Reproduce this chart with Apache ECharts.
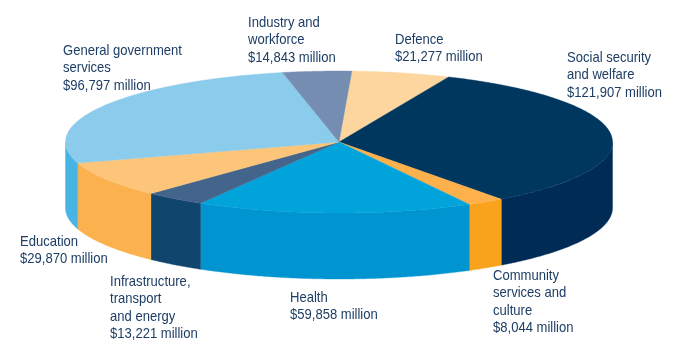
<!DOCTYPE html>
<html>
<head>
<meta charset="utf-8">
<style>html,body{margin:0;padding:0;background:#fff}#c{width:690px;height:356px}</style>
<script src="https://cdn.jsdelivr.net/npm/echarts@6/dist/echarts.min.js"></script>
</head>
<body>
<div id="c"></div>
<script>
// Data, clockwise from the top of the pie
var categories = ['Defence', 'Social security\nand welfare', 'Community\nservices and\nculture', 'Health',
  'Infrastructure,\ntransport\nand energy', 'Education', 'General government\nservices', 'Industry and\nworkforce'];
var spending = [21277, 121907, 8044, 59858, 13221, 29870, 96797, 14843];

// Styles and layout
var topColors = ['#fdd69f', '#00375f', '#fdb04c', '#00a4db', '#44658b', '#fcc579', '#8bcbec', '#748db0'];
var sideColors = ['#fdd69f', '#002b55', '#f9a31c', '#0094d0', '#10456d', '#fbb14d', '#47b4e4', '#748db0'];
var labelX = [395, 567, 493, 290, 110, 20, 63, 248];
var labelY = [31, 49, 267, 289, 273, 233, 42, 14];
var startAngle = 2.7, cx = 339, cy = 142, rx = 273.5, ry = 71, depth = 66;

var total = spending.reduce(function (a, b) { return a + b; }, 0);
function sliceStart(i) {
  var sum = 0;
  for (var k = 0; k < i; k++) sum += spending[k];
  return startAngle + sum / total * 360;
}
function rimPoint(deg, dy) {
  var r = deg * Math.PI / 180;
  return [cx + rx * Math.sin(r), cy - ry * Math.cos(r) + dy];
}
function renderTop(params, api) {
  var i = params.dataIndex, a0 = sliceStart(i), a1 = a0 + api.value(0) / total * 360;
  var pts = [[cx, cy]];
  for (var a = a0; a < a1; a += 0.5) pts.push(rimPoint(a, 0));
  pts.push(rimPoint(a1, 0));
  return { type: 'polygon', shape: { points: pts },
    style: { fill: topColors[i], stroke: topColors[i], lineWidth: 0.4 } };
}
function renderSide(params, api) {
  var i = params.dataIndex, a0 = sliceStart(i), a1 = a0 + api.value(0) / total * 360;
  var s = Math.max(a0, 90), e = Math.min(a1, 270);
  if (e <= s) return { type: 'group', children: [] };
  var upper = [], lower = [];
  for (var a = s; a < e; a += 0.5) { upper.push(rimPoint(a, 0)); lower.push(rimPoint(a, depth)); }
  upper.push(rimPoint(e, 0)); lower.push(rimPoint(e, depth));
  return { type: 'polygon', shape: { points: upper.concat(lower.reverse()) },
    style: { fill: sideColors[i], stroke: sideColors[i], lineWidth: 0.4 } };
}
function renderLabel(params, api) {
  var i = params.dataIndex;
  return { type: 'text', x: labelX[i], y: labelY[i], scaleX: 0.87, scaleY: 1,
    style: {
      text: categories[i] + '\n$' + api.value(0).toLocaleString('en-US') + ' million',
      font: '15px "Liberation Sans", sans-serif',
      lineHeight: 17.5, fill: '#1d3d64', textAlign: 'left', textVerticalAlign: 'top'
    } };
}
var chart = echarts.init(document.getElementById('c'), null, { renderer: 'canvas' });
chart.setOption({
  animation: false,
  backgroundColor: '#ffffff',
  tooltip: { show: false },
  series: [
    { type: 'custom', name: 'side', coordinateSystem: 'none', data: spending, renderItem: renderSide, z: 1, silent: true },
    { type: 'custom', name: 'top', coordinateSystem: 'none', data: spending, renderItem: renderTop, z: 2, silent: true },
    { type: 'custom', name: 'labels', coordinateSystem: 'none', data: spending, renderItem: renderLabel, z: 3, silent: true }
  ]
});
</script>
</body>
</html>
